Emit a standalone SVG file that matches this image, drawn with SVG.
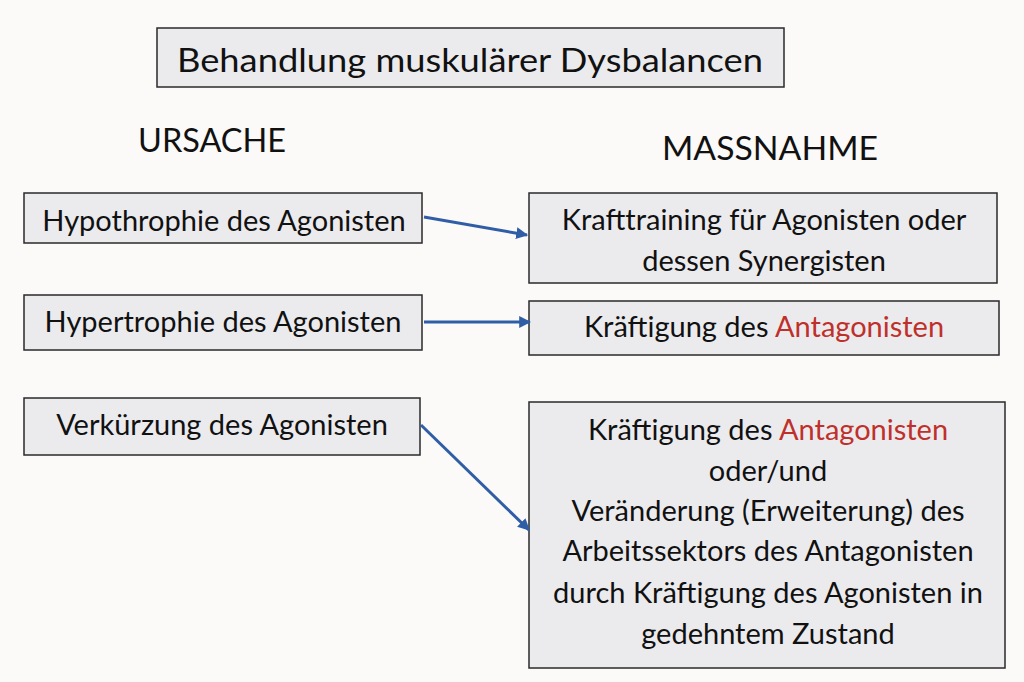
<svg xmlns="http://www.w3.org/2000/svg" width="1024" height="682" viewBox="0 0 1024 682">
<style>
.bx{fill:#ebebee;stroke:#2a2a2a;stroke-width:1.5}
text{font-family:Lato,"Open Sans",sans-serif;fill:#111;text-anchor:middle}
.t{font-size:29px}
.red{fill:#c0302b}
.con{stroke:#2f5ea6;stroke-width:3;fill:none;marker-end:url(#ah)}
</style>
<defs>
<marker id="ah" viewBox="0 0 10 10" refX="9" refY="5" markerWidth="4" markerHeight="4" orient="auto" markerUnits="strokeWidth">
<path d="M0,0 L10,5 L0,10 z" fill="#2f5ea6"/>
</marker>
</defs>
<rect width="1024" height="682" fill="#fbfaf8"/>
<g id="title">
<rect class="bx" x="157" y="28" width="627" height="59"/>
<text x="470" y="72" style="font-size:33px" textLength="586" lengthAdjust="spacingAndGlyphs">Behandlung muskulärer Dysbalancen</text>
</g>
<g id="ursache"><text x="212" y="152" style="font-size:32px" textLength="148" lengthAdjust="spacingAndGlyphs">URSACHE</text></g>
<g id="massnahme"><text x="770" y="160" style="font-size:32px" textLength="216" lengthAdjust="spacingAndGlyphs">MASSNAHME</text></g>
<g id="l1">
<rect class="bx" x="24" y="193" width="398" height="50"/>
<text class="t" x="224" y="231">Hypothrophie des Agonisten</text>
</g>
<g id="l2">
<rect class="bx" x="24" y="295" width="398" height="55"/>
<text class="t" x="223" y="332">Hypertrophie des Agonisten</text>
</g>
<g id="l3">
<rect class="bx" x="24" y="398" width="396" height="57"/>
<text class="t" x="222" y="435">Verkürzung des Agonisten</text>
</g>
<g id="r1">
<rect class="bx" x="529" y="193" width="468" height="90"/>
<text class="t" x="764" y="230">Krafttraining für Agonisten oder</text>
<text class="t" x="764" y="271">dessen Synergisten</text>
</g>
<g id="r2">
<rect class="bx" x="529" y="301" width="470" height="54"/>
<text class="t" x="764" y="337">Kräftigung des <tspan class="red">Antagonisten</tspan></text>
</g>
<g id="r3">
<rect class="bx" x="529" y="402" width="476" height="266"/>
<text class="t" x="768" y="440">Kräftigung des <tspan class="red">Antagonisten</tspan></text>
<text class="t" x="768" y="481">oder/und</text>
<text class="t" x="768" y="521">Veränderung (Erweiterung) des</text>
<text class="t" x="768" y="561">Arbeitssektors des Antagonisten</text>
<text class="t" x="768" y="603">durch Kräftigung des Agonisten in</text>
<text class="t" x="768" y="644">gedehntem Zustand</text>
</g>
<g id="connectors">
<line class="con" x1="424" y1="217" x2="527" y2="235"/>
<line class="con" x1="424" y1="322" x2="530" y2="322"/>
<line class="con" x1="421" y1="425" x2="529" y2="530"/>
</g>
</svg>
